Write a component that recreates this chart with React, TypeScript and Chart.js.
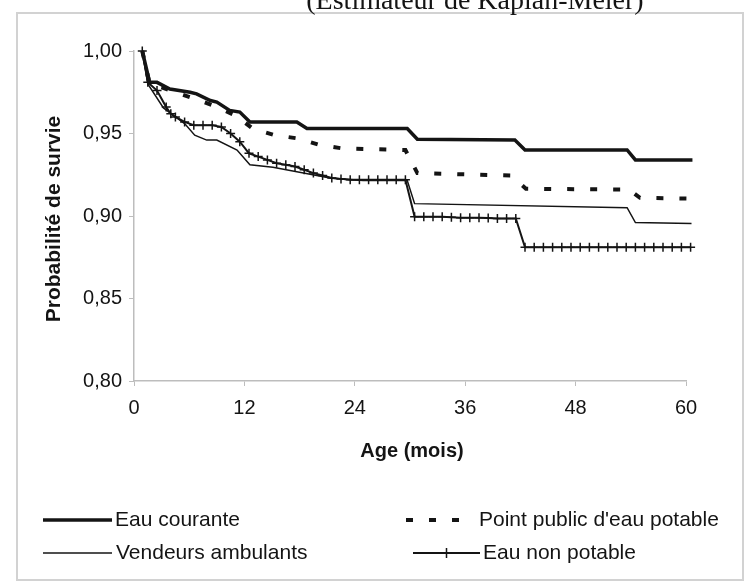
import React, { useEffect, useRef } from "react";
import { Chart, registerables } from "chart.js";
Chart.register(...registerables);

// ---- Text ----
const TITLE = "(Estimateur de Kaplan-Meier)";
const X_TITLE = "Age (mois)";
const Y_TITLE = "Probabilité de survie";

// ---- Axes ----
const X_MIN = 0;
const X_MAX = 60;
const X_STEP = 12;
const Y_MIN = 0.8;
const Y_MAX = 1.0;
const Y_STEP = 0.05;

// ---- Series (age in months, survival probability) ----
const eauCouranteLabel = "Eau courante";
const eauCouranteMonths = [0.9, 1.7, 2.5, 3.9, 6.1, 6.8, 8.3, 9.0, 10.4, 11.5, 12.6, 17.7, 18.8, 29.7, 30.8, 41.4, 42.5, 53.6, 54.5, 60.7];
const eauCouranteSurv = [1.0, 0.981, 0.981, 0.977, 0.975, 0.974, 0.970, 0.969, 0.964, 0.963, 0.957, 0.957, 0.953, 0.953, 0.9465, 0.946, 0.940, 0.940, 0.934, 0.934];

const pointPublicLabel = "Point public d'eau potable";
const pointPublicMonths = [0.9, 1.7, 3.0, 4.5, 6.1, 8.6, 11.0, 12.9, 15.3, 17.8, 20.2, 22.6, 29.5, 30.8, 41.0, 42.6, 53.8, 55.0, 60.7];
const pointPublicSurv = [1.0, 0.980, 0.978, 0.975, 0.972, 0.967, 0.961, 0.953, 0.949, 0.947, 0.943, 0.941, 0.940, 0.926, 0.9245, 0.9165, 0.916, 0.911, 0.9105];

const vendeursLabel = "Vendeurs ambulants";
const vendeursMonths = [0.9, 1.5, 3.2, 5.5, 6.6, 7.9, 9.0, 11.2, 12.6, 15.1, 21.3, 24.9, 29.7, 30.5, 53.6, 54.5, 60.6];
const vendeursSurv = [1.0, 0.980, 0.9655, 0.956, 0.949, 0.946, 0.946, 0.940, 0.931, 0.9295, 0.923, 0.9215, 0.9215, 0.9075, 0.905, 0.896, 0.8955];

const nonPotableLabel = "Eau non potable";
const nonPotableMonths = [
  0.9, 1.5, 2.5, 3.5, 4.0, 4.5, 5.5, 6.5, 7.5, 8.5, 9.5, 10.5, 11.5, 12.5, 13.5, 14.5, 15.5, 16.5, 17.5, 18.5,
  19.5, 20.5, 21.5, 22.5, 23.5, 24.5, 25.5, 26.5, 27.5, 28.5, 29.5, 30.5, 31.5, 32.5, 33.5, 34.5, 35.5, 36.5,
  37.5, 38.5, 39.5, 40.5, 41.5, 42.5, 43.5, 44.5, 45.5, 46.5, 47.5, 48.5, 49.5, 50.5, 51.5, 52.5, 53.5, 54.5,
  55.5, 56.5, 57.5, 58.5, 59.5, 60.5,
];
const nonPotableSurv = [
  1.0, 0.981, 0.976, 0.966, 0.962, 0.960, 0.957, 0.955, 0.955, 0.955, 0.954, 0.950, 0.945, 0.938, 0.936, 0.934, 0.932, 0.931, 0.930, 0.928,
  0.926, 0.9245, 0.923, 0.9225, 0.922, 0.922, 0.922, 0.922, 0.922, 0.922, 0.922, 0.8995, 0.8995, 0.8995, 0.8995, 0.8993, 0.899, 0.899,
  0.899, 0.8988, 0.8985, 0.8985, 0.8985, 0.881, 0.881, 0.881, 0.881, 0.881, 0.881, 0.881, 0.881, 0.881, 0.881, 0.881, 0.881, 0.881,
  0.881, 0.881, 0.881, 0.881, 0.881, 0.881,
];

const FONT = "'Liberation Sans', Arial, Helvetica, sans-serif";
const INK = "#141414";
const AXIS = "#bdbdbd";

function pts(xs: number[], ys: number[]) {
  return xs.map((x, i) => ({ x, y: ys[i] }));
}

// legend layout: [dataset index, line start, line end, text x, y]
const LEGEND_LAYOUT = [
  [0, 43, 112, 115, 520],
  [1, 406, 475, 479, 520],
  [2, 43, 112, 116, 553],
  [3, 413, 480, 483, 553],
];

const decorPlugin = {
  id: "decor",
  afterDraw(chart: any) {
    const ctx = chart.ctx as CanvasRenderingContext2D;
    ctx.save();
    ctx.strokeStyle = "#d2d2d2";
    ctx.lineWidth = 2;
    ctx.strokeRect(17, 13, 726, 567);

    ctx.fillStyle = INK;
    ctx.font = `bold 20px ${FONT}`;
    ctx.textAlign = "center";
    ctx.textBaseline = "middle";
    ctx.fillText(X_TITLE, 412, 451);
    ctx.save();
    ctx.font = `bold 21px ${FONT}`;
    ctx.translate(54, 219);
    ctx.rotate(-Math.PI / 2);
    ctx.fillText(Y_TITLE, 0, 0);
    ctx.restore();

    ctx.font = `21px ${FONT}`;
    ctx.textAlign = "left";
    for (const [di, x0, x1, tx, y] of LEGEND_LAYOUT) {
      const ds = chart.data.datasets[di];
      ctx.save();
      ctx.strokeStyle = INK;
      ctx.lineWidth = ds.borderWidth;
      ctx.setLineDash(ds.borderDash || []);
      ctx.beginPath();
      ctx.moveTo(x0, y);
      ctx.lineTo(x1, y);
      ctx.stroke();
      ctx.setLineDash([]);
      if (ds.pointStyle === "cross") {
        const cx = (x0 + x1) / 2;
        ctx.lineWidth = 1.5;
        ctx.beginPath();
        ctx.moveTo(cx, y - 5);
        ctx.lineTo(cx, y + 5);
        ctx.moveTo(cx - 5, y);
        ctx.lineTo(cx + 5, y);
        ctx.stroke();
      }
      ctx.restore();
      ctx.fillStyle = INK;
      ctx.textBaseline = "middle";
      ctx.fillText(ds.label, tx, y);
    }
    ctx.restore();
  },
};

export default function App() {
  const ref = useRef<HTMLCanvasElement | null>(null);
  useEffect(() => {
    if (!ref.current) return;
    const chart = new Chart(ref.current, {
      type: "line",
      data: {
        datasets: [
          {
            label: eauCouranteLabel,
            data: pts(eauCouranteMonths, eauCouranteSurv),
            borderColor: INK,
            borderWidth: 3.5,
            pointRadius: 0,
            clip: false,
          },
          {
            label: pointPublicLabel,
            data: pts(pointPublicMonths, pointPublicSurv),
            borderColor: INK,
            borderWidth: 4,
            borderDash: [7, 16],
            pointRadius: 0,
            clip: false,
          },
          {
            label: vendeursLabel,
            data: pts(vendeursMonths, vendeursSurv),
            borderColor: INK,
            borderWidth: 1.5,
            pointRadius: 0,
            clip: false,
          },
          {
            label: nonPotableLabel,
            data: pts(nonPotableMonths, nonPotableSurv),
            borderColor: INK,
            borderWidth: 2,
            pointStyle: "cross",
            pointRadius: 4.5,
            pointBorderWidth: 1.5,
            pointBorderColor: INK,
            clip: false,
          },
        ] as any,
      },
      options: {
        animation: false,
        responsive: false,
        devicePixelRatio: 1,
        events: [],
        layout: { padding: { left: 0, top: 51, right: 59, bottom: 0 } },
        plugins: { legend: { display: false }, tooltip: { enabled: false }, title: { display: false } },
        elements: { line: { tension: 0 } },
        scales: {
          x: {
            type: "linear",
            min: X_MIN,
            max: X_MAX,
            afterFit: (s: any) => {
              s.height = 583 - 381;
            },
            ticks: {
              stepSize: X_STEP,
              color: INK,
              font: { family: FONT, size: 20 },
              padding: 10,
              maxRotation: 0,
            },
            grid: { display: true, drawOnChartArea: false, drawTicks: true, tickLength: 5, color: AXIS },
            border: { display: true, color: AXIS, width: 1.5 },
          },
          y: {
            type: "linear",
            min: Y_MIN,
            max: Y_MAX,
            afterFit: (s: any) => {
              s.width = 134;
            },
            ticks: {
              stepSize: Y_STEP,
              color: INK,
              font: { family: FONT, size: 20 },
              padding: 7,
              callback: (v: any) => Number(v).toFixed(2).replace(".", ","),
            },
            grid: { display: true, drawOnChartArea: false, drawTicks: true, tickLength: 5, color: AXIS },
            border: { display: true, color: AXIS, width: 1.5 },
          },
        },
      },
      plugins: [decorPlugin],
    } as any);
    return () => chart.destroy();
  }, []);

  return (
    <div style={{ position: "absolute", left: 0, top: 0, width: 745, height: 583, overflow: "hidden", background: "#fff" }}>
      <canvas ref={ref} width={745} height={583} style={{ display: "block", width: 745, height: 583 }} />
      <div
        style={{
          position: "absolute",
          left: 0,
          width: 950,
          top: -16,
          textAlign: "center",
          fontFamily: "'Liberation Serif', 'Times New Roman', serif",
          fontSize: 28,
          lineHeight: "32px",
          color: INK,
          whiteSpace: "nowrap",
        }}
      >
        {TITLE}
      </div>
    </div>
  );
}
